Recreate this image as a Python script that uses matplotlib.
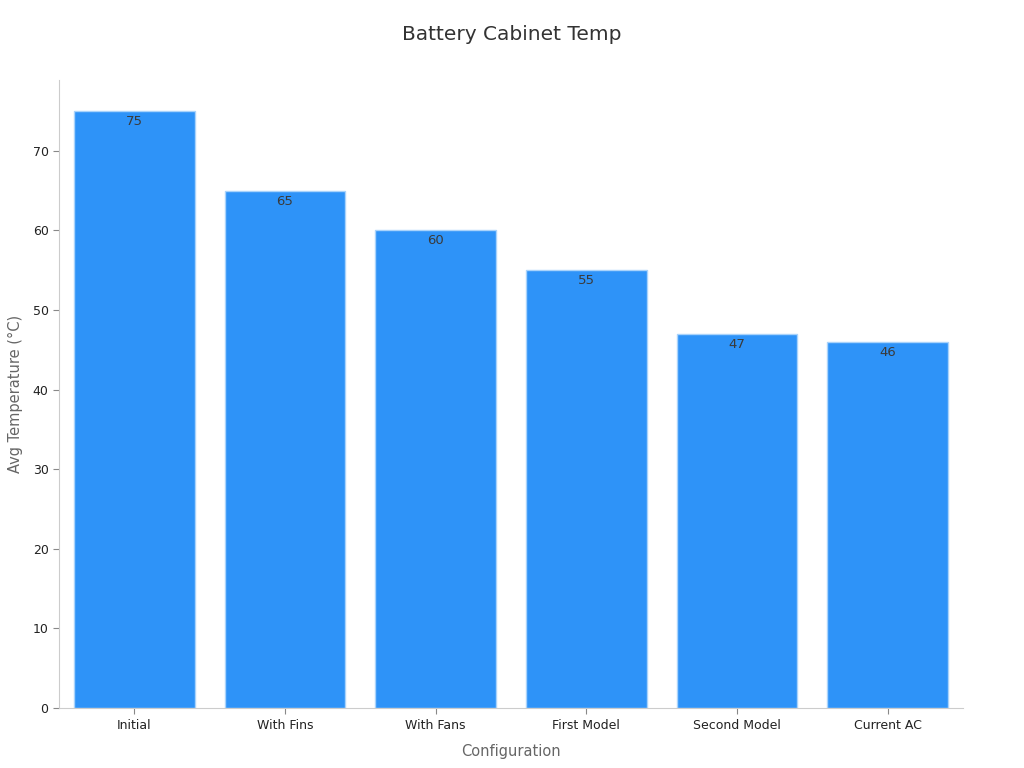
import matplotlib.pyplot as plt

configs = ["Initial", "With Fins", "With Fans", "First Model", "Second Model", "Current AC"]
temps = [75, 65, 60, 55, 47, 46]

fig = plt.figure(figsize=(10.24, 7.68), dpi=100)
ax = fig.add_axes([0.0576, 0.078, 0.8828, 0.818])

bars = ax.bar(range(len(configs)), temps, width=0.8, color="#2E93F8",
              edgecolor="#A9D3FB", linewidth=1)

for b, v in zip(bars, temps):
    ax.text(b.get_x() + b.get_width() / 2, v - 0.5, str(v), ha="center", va="top",
            fontsize=9.5, color="#3A3A3A")

ax.set_xlim(-0.5, len(configs) - 0.5)
ax.set_ylim(0, 78.9)
ax.set_yticks(range(0, 80, 10))
ax.set_xticks(range(len(configs)))
ax.set_xticklabels(configs)
ax.tick_params(axis="both", labelsize=9, colors="#222222", length=4)
ax.tick_params(axis="both", color="#888888")

for s in ["top", "right"]:
    ax.spines[s].set_visible(False)
for s in ["left", "bottom"]:
    ax.spines[s].set_color("#CCCCCC")

ax.set_xlabel("Configuration", fontsize=10.5, color="#666666", labelpad=9)
ax.set_ylabel("Avg Temperature (°C)", fontsize=10.5, color="#666666", labelpad=7)
fig.suptitle("Battery Cabinet Temp", fontsize=14.5, color="#333333", y=0.968)

fig.savefig("out.png", dpi=100)
